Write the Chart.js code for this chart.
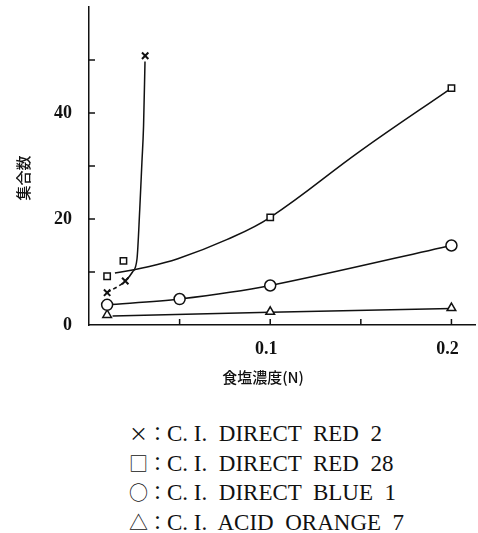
<!DOCTYPE html>
<html>
<head>
<meta charset="utf-8">
<script src="https://cdn.jsdelivr.net/npm/chart.js@4/dist/chart.umd.min.js"></script>
<style>
  body { margin: 0; background: #fff; }
  #wrap { position: relative; width: 478px; height: 533px; }
  #legend {
    position: absolute; left: 129px; top: 419px;
    font: 23px "Liberation Serif", serif; color: #111;
    line-height: 28.6px; white-space: pre;
  }
  #legend .sym { font-family: "Noto Sans CJK JP", sans-serif; font-size: 19px; }
</style>
</head>
<body>
<div id="wrap">
  <canvas id="chart" width="478" height="400"></canvas>
  <div id="legend"></div>
</div>
<script>
// 食塩濃度 (N) vs 集合数
const xTitle = '食塩濃度(N)';
const yTitle = '集合数';
const yTickLabels = [0, 20, 40];
const yMinorTicks = [10, 20, 30, 40, 50];
const xMinorTicks = [0.05, 0.1, 0.15, 0.2];
const xTickLabels = [0.1, 0.2];

// C.I. DIRECT RED 2
const red2X = [0.01, 0.02, 0.031];
const red2Y = [6.1, 8.3, 50.8];
const red2CurveX = [0.01, 0.02, 0.024, 0.0265, 0.028, 0.0292, 0.0301, 0.0309];
const red2CurveY = [6.1, 8.3, 10.0, 12.5, 21.8, 30.7, 37.5, 49.7];

// C.I. DIRECT RED 28
const red28X = [0.01, 0.019, 0.1, 0.2];
const red28Y = [9.2, 12.1, 20.3, 44.7];
const red28CurveX = [0.0143, 0.03, 0.049, 0.076, 0.1, 0.15, 0.2];
const red28CurveY = [9.8, 10.8, 12.5, 16.1, 20.3, 32.9, 44.7];

// C.I. DIRECT BLUE 1
const blue1X = [0.01, 0.05, 0.1, 0.2];
const blue1Y = [3.8, 4.9, 7.45, 15.0];

// C.I. ACID ORANGE 7
const orange7X = [0.01, 0.1, 0.2];
const orange7Y = [1.9, 2.5, 3.2];
const orange7LineX = [0.013, 0.1, 0.2];
const orange7LineY = [1.7, 2.4, 3.1];

const legendItems = [
  ['×', 'C. I.  DIRECT  RED  2'],
  ['□', 'C. I.  DIRECT  RED  28'],
  ['○', 'C. I.  DIRECT  BLUE  1'],
  ['△', 'C. I.  ACID  ORANGE  7']
];

const pts = (xs, ys) => xs.map((x, i) => ({ x: x, y: ys[i] }));

const markers = (data, style, r, w) => ({
  data: data, showLine: false, pointStyle: style, pointRadius: r,
  pointBorderColor: '#111', pointBackgroundColor: '#fff', pointBorderWidth: w || 1.5
});
const curve = (data, extra) => Object.assign({
  data: data, borderColor: '#111', borderWidth: 1.5, pointRadius: 0,
  tension: 0.4, fill: false
}, extra || {});

// short inward tick marks and the two axis titles
const axisDecor = {
  id: 'axisDecor',
  afterDraw(chart) {
    const { ctx, chartArea, scales } = chart;
    ctx.save();
    ctx.strokeStyle = '#111';
    ctx.lineWidth = 1.5;
    ctx.beginPath();
    yMinorTicks.forEach(v => {
      const py = scales.y.getPixelForValue(v);
      ctx.moveTo(chartArea.left, py);
      ctx.lineTo(chartArea.left + 6, py);
    });
    xMinorTicks.forEach(v => {
      const px = scales.x.getPixelForValue(v);
      ctx.moveTo(px, chartArea.bottom);
      ctx.lineTo(px, chartArea.bottom - 6);
    });
    ctx.stroke();

    ctx.fillStyle = '#111';
    ctx.font = '500 15px "Noto Sans CJK JP"';
    ctx.textAlign = 'center';
    ctx.textBaseline = 'middle';
    ctx.fillText(xTitle, 263, 377);
    ctx.translate(23, 178);
    ctx.rotate(-Math.PI / 2);
    ctx.fillText(yTitle, 0, 0);
    ctx.restore();
  }
};

new Chart(document.getElementById('chart'), {
  type: 'line',
  data: {
    datasets: [
      markers(pts(red2X, red2Y), 'crossRot', 4.5, 2),
      markers(pts(red28X, red28Y), 'rect', 4.5),
      markers(pts(blue1X, blue1Y), 'circle', 5.5),
      markers(pts(orange7X, orange7Y), 'triangle', 5),
      curve(pts(red2CurveX, red2CurveY), {
        tension: 0,
        cubicInterpolationMode: 'monotone',
        segment: { borderDash: c => c.p0DataIndex === 0 ? [4, 3] : undefined }
      }),
      curve(pts(red28CurveX, red28CurveY)),
      curve(pts(blue1X, blue1Y), { tension: 0.3 }),
      curve(pts(orange7LineX, orange7LineY), { tension: 0 })
    ]
  },
  options: {
    responsive: false,
    animation: false,
    layout: { autoPadding: false, padding: { top: 7, right: 3, left: 0, bottom: 0 } },
    plugins: { legend: { display: false }, tooltip: { enabled: false } },
    scales: {
      x: {
        type: 'linear', min: 0, max: 0.213,
        grid: { display: true, drawOnChartArea: false, drawTicks: false },
        border: { display: true, color: '#111', width: 1.5 },
        afterBuildTicks: s => { s.ticks = xTickLabels.map(v => ({ value: v })); },
        ticks: {
          color: '#111', padding: 14, labelOffset: -4, maxRotation: 0,
          font: { family: '"Liberation Serif", serif', size: 18, weight: 'bold' },
          callback: v => String(v)
        },
        afterFit: s => { s.height = 75; s.paddingLeft = 0; s.paddingRight = 0; }
      },
      y: {
        min: 0, max: 60,
        grid: { display: true, drawOnChartArea: false, drawTicks: false },
        border: { display: true, color: '#111', width: 1.5 },
        afterBuildTicks: s => { s.ticks = yTickLabels.map(v => ({ value: v })); },
        ticks: {
          color: '#111', padding: 17,
          font: { family: '"Liberation Serif", serif', size: 18, weight: 'bold' }
        },
        afterFit: s => { s.width = 89; s.paddingTop = 0; s.paddingBottom = 0; }
      }
    }
  },
  plugins: [axisDecor]
});

const legendEl = document.getElementById('legend');
legendEl.innerHTML = legendItems
  .map(([sym, name]) => '<div><span class="sym">' + sym + '：</span>' + name + '</div>')
  .join('');
</script>
</body>
</html>
